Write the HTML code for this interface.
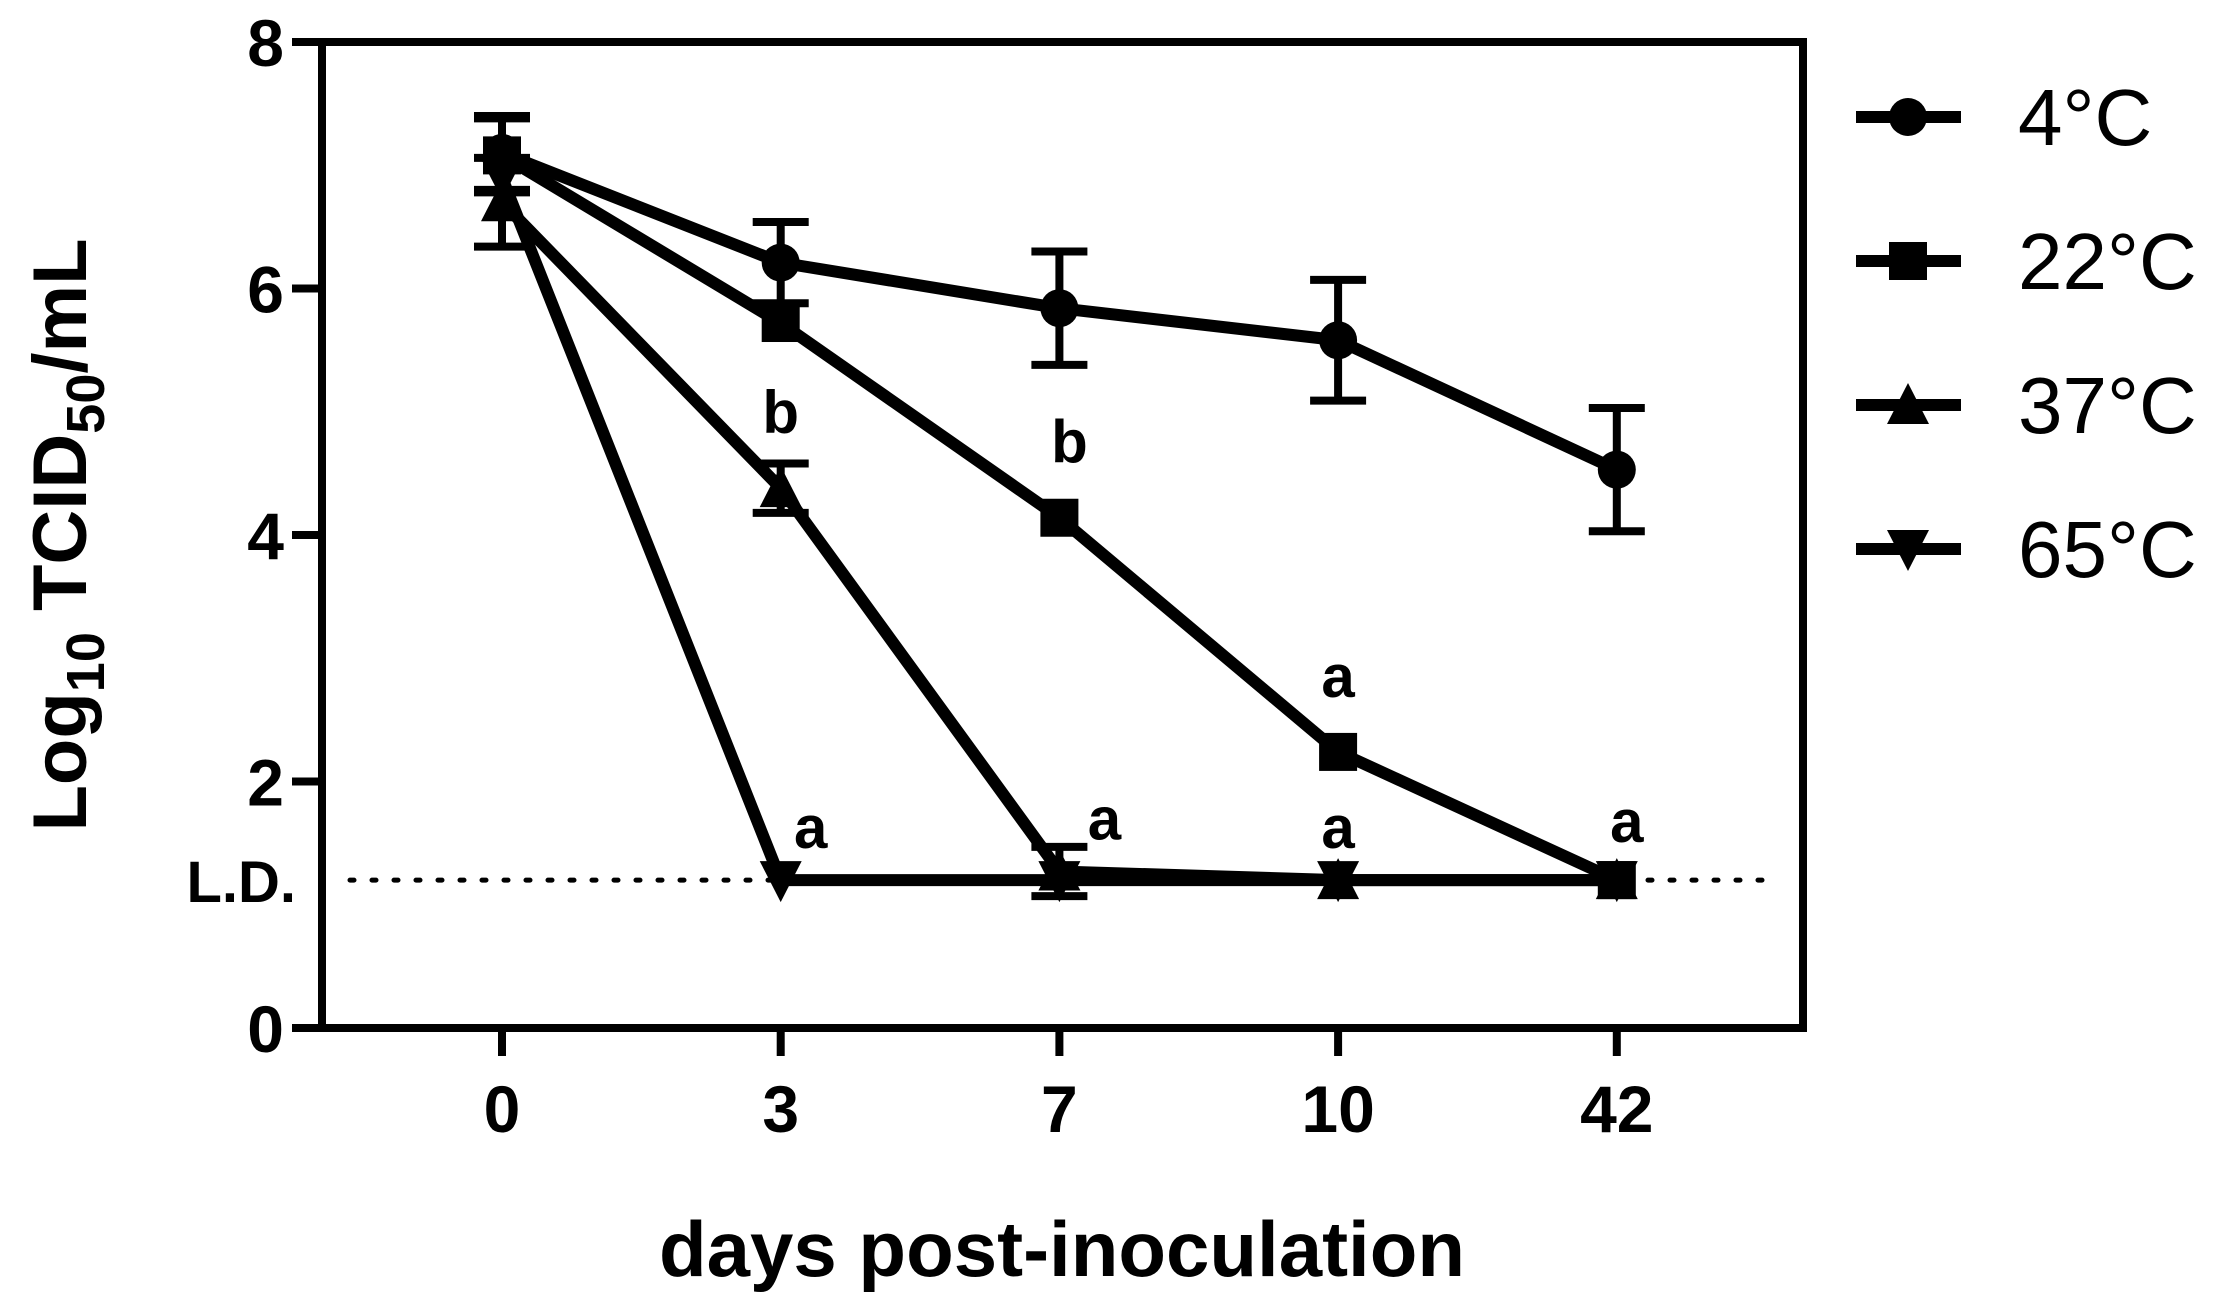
<!DOCTYPE html>
<html><head><meta charset="utf-8"><style>
html,body{margin:0;padding:0;background:#fff}
svg{display:block}
text{font-family:"Liberation Sans",Arial,sans-serif;fill:#000}
</style></head><body>
<svg id="chart" width="2218" height="1307" viewBox="0 0 2218 1307" xmlns="http://www.w3.org/2000/svg"></svg>
<script>
const categories = ["0","3","7","10","42"];
const yTicks = [0,2,4,6,8];
const LD = 1.2;
const s4 = [7.1,6.21,5.84,5.58,4.53];
const e4 = [0.3,0.33,0.46,0.49,0.5];
const s22 = [7.08,5.72,4.14,2.24,1.2];
const e22 = [0.3,0,0,0,0];
const s37 = [6.7,4.38,1.27,1.2,1.2];
const e37 = [0.36,0.2,0.2,0,0];
const s65 = [6.9,1.2,1.2,1.2,1.2];
const e65 = [0,0,0,0,0];
const annotations = [
  {i:1, v:4.38, label:"b", dx:0, dy:-55},
  {i:2, v:4.14, label:"b", dx:10, dy:-55},
  {i:3, v:2.24, label:"a", dx:0, dy:-55},
  {i:1, v:1.2, label:"a", dx:30, dy:-32},
  {i:2, v:1.27, label:"a", dx:45, dy:-32},
  {i:3, v:1.2, label:"a", dx:0, dy:-32},
  {i:4, v:1.2, label:"a", dx:10, dy:-38}
];
const NS="http://www.w3.org/2000/svg";
const svg=document.getElementById('chart');
const L=322,R=1803,T=42,B=1028;
const X0=502,DX=278.7;
function xs(i){return X0+i*DX;}
function ys(v){return B-(v/8)*(B-T);}
function mk(tag,attrs,parent){const e=document.createElementNS(NS,tag);for(const k in attrs)e.setAttribute(k,attrs[k]);(parent||svg).appendChild(e);return e;}

const ld=mk('line',{x1:L+28,x2:R-25,y1:ys(LD),y2:ys(LD),stroke:'#000','stroke-width':5,'stroke-dasharray':'4 18','stroke-linecap':'round'});


const ldt=mk('text',{x:296,y:ys(LD)+22,'font-size':58,'font-weight':'bold','text-anchor':'end'});
ldt.textContent='L.D.';



const fr=mk('rect',{x:L,y:T,width:R-L,height:B-T,fill:'none',stroke:'#000','stroke-width':8});



yTicks.forEach(v=>{
  const t=mk('line',{x1:L-30,x2:L,y1:ys(v),y2:ys(v),stroke:'#000','stroke-width':8});
  
  
  const tl=mk('text',{x:L-38,y:ys(v)+24,'font-size':66,'font-weight':'bold','text-anchor':'end'});
  tl.textContent=v;
  
  
});
categories.forEach((c,i)=>{
  const t=mk('line',{x1:xs(i),x2:xs(i),y1:B,y2:B+28,stroke:'#000','stroke-width':8});
  
  
  const tl=mk('text',{x:xs(i),y:B+104,'font-size':66,'font-weight':'bold','text-anchor':'middle'});
  tl.textContent=c;
  
  
});
const xt=mk('text',{x:1062,y:1276,'font-size':78,'font-weight':'bold','text-anchor':'middle'});
xt.textContent='days post-inoculation';


const yt=mk('text',{transform:'translate(86,535) rotate(-90)','font-size':76,'font-weight':'bold','text-anchor':'middle'});
yt.innerHTML='Log<tspan font-size="54" dy="18">10</tspan><tspan dy="-18"> TCID</tspan><tspan font-size="54" dy="18">50</tspan><tspan dy="-18">/mL</tspan>';



function marker(shape,cx,cy,g,sz){
  let e;
  const h=sz/2;
  if(shape==='circle') e=mk('circle',{cx:cx,cy:cy,r:h,fill:'#000'},g);
  else if(shape==='square') e=mk('rect',{x:cx-h,y:cy-h,width:sz,height:sz,fill:'#000'},g);
  else if(shape==='up') e=mk('polygon',{points:`${cx},${cy-h-3} ${cx+h+2},${cy+h} ${cx-h-2},${cy+h}`,fill:'#000'},g);
  else e=mk('polygon',{points:`${cx},${cy+h+3} ${cx+h+2},${cy-h} ${cx-h-2},${cy-h}`,fill:'#000'},g);
  return e;
}
const series=[
  {name:'4°C',vals:s4,errs:e4,shape:'circle',id:'4c'},
  {name:'22°C',vals:s22,errs:e22,shape:'square',id:'22c'},
  {name:'37°C',vals:s37,errs:e37,shape:'up',id:'37c'},
  {name:'65°C',vals:s65,errs:e65,shape:'down',id:'65c'}
];
series.slice().reverse().forEach(s=>{
  const g=mk('g',{});
  
  
  s.vals.forEach((v,i)=>{
    const e=s.errs[i]; if(!e) return;
    const x=xs(i),y1=ys(v+e),y2=ys(v-e);
    const eb=mk('path',{d:`M${x},${y1}V${y2}M${x-28},${y1}H${x+28}M${x-28},${y2}H${x+28}`,stroke:'#000','stroke-width':8,fill:'none'},g);
    
    
  });
  const pts=s.vals.map((v,i)=>xs(i)+','+ys(v)).join(' ');
  const pl=mk('polyline',{points:pts,fill:'none',stroke:'#000','stroke-width':12,'stroke-linejoin':'round'},g);
  
  
  s.vals.forEach((v,i)=>{
    const m=marker(s.shape,xs(i),ys(v),g,38);
    
    
  });
});
annotations.forEach(a=>{
  const t=mk('text',{x:xs(a.i)+a.dx,y:ys(a.v)+a.dy,'font-size':60,'font-weight':'bold','text-anchor':'middle'});
  t.textContent=a.label;
  
  
});
series.forEach((s,k)=>{
  const y=117+k*144;
  const g=mk('g',{});
  
  
  mk('line',{x1:1856,x2:1961,y1:y,y2:y,stroke:'#000','stroke-width':12},g);
  marker(s.shape,1908,y,g,38);
  const t=mk('text',{x:2018,y:y+28,'font-size':80},g);
  t.textContent=s.name;
});
</script>
</body></html>
